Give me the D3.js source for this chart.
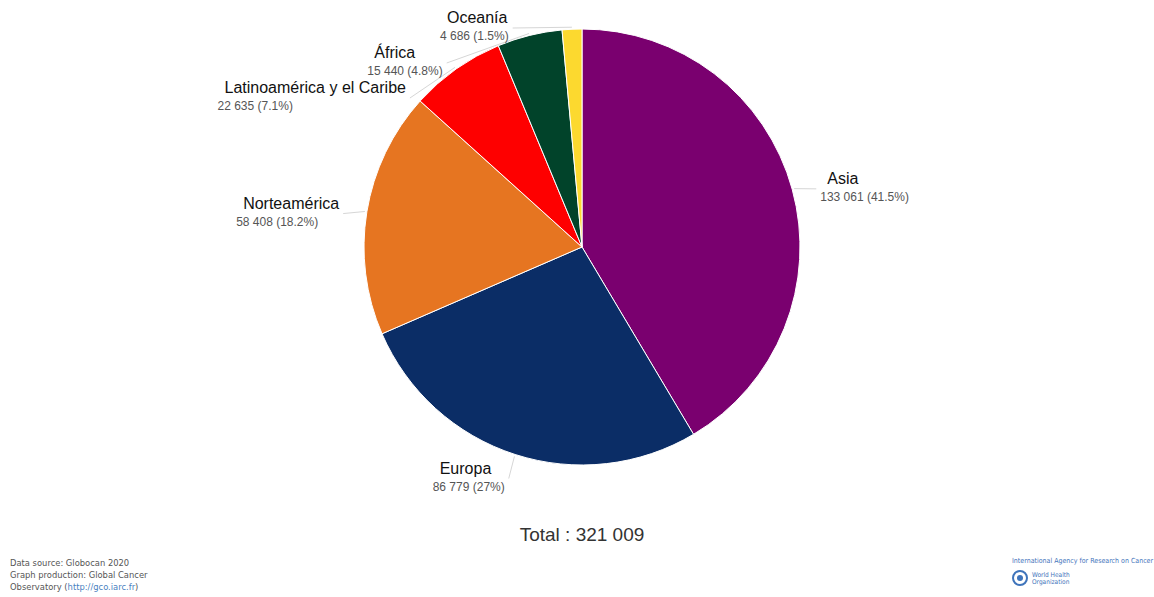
<!DOCTYPE html>
<html>
<head>
<meta charset="utf-8">
<script src="https://cdn.jsdelivr.net/npm/d3@7"></script>
<style>
    body { margin: 0; background: #fff; }
    svg { font-family: "Liberation Sans", Arial, sans-serif; }
</style>
</head>
<body>
<div id="chart"></div>
<script>
// data
var regions = ["Asia", "Europa", "Norteamérica", "Latinoamérica y el Caribe", "África", "Oceanía"];
var cases = [133061, 86779, 58408, 22635, 15440, 4686];
var colors = ["#7a006f", "#0b2d66", "#e67521", "#fe0000", "#01432a", "#fcd92f"];
var sourceLines = ["Data source: Globocan 2020", "Graph production: Global Cancer", "Observatory ("];
var agencyLines = ["International Agency for Research on Cancer", "World Health", "Organization"];

var svgWidth = 1154,
    svgHeight = 597,
    cx = 582,
    cy = 247,
    radius = 218,
    labelRy = 238,  // where the name baseline sits vertically
    labelRx = 245,  // horizontal circle for free labels
    labelRxPushed = 230, // pushed labels hug the pie a bit closer
    labelGap = 35,  // min vertical distance between stacked labels
    labelTop = 23;

var svg = d3.select("#chart")
    .append("svg")
    .attr("width", svgWidth)
    .attr("height", svgHeight);

var locale = d3.formatLocale({ decimal: ".", thousands: " ", grouping: [3], currency: ["", ""] });
var fmt = locale.format(",d");
var total = d3.sum(cases);

var pie = d3.pie().sort(null).value(function (d) { return d; });
var arc = d3.arc().innerRadius(0).outerRadius(radius);
var arcs = pie(cases);

var g = svg.append("g").attr("transform", "translate(" + cx + "," + cy + ")");

g.selectAll(".slice")
    .data(arcs)
    .enter()
    .append("path")
    .attr("class", "slice")
    .attr("d", arc)
    .attr("fill", function (d, i) { return colors[i]; })
    .attr("stroke", "#fff")
    .attr("stroke-width", 1);

// label layout: natural spot on the outer circle, then push the left stack down
var labels = arcs.map(function (d, i) {
    var a = (d.startAngle + d.endAngle) / 2;
    return { i: i, a: a, right: Math.sin(a) >= 0, y: cy - labelRy * Math.cos(a), pushed: false };
});
var left = labels.filter(function (l) { return !l.right; })
    .sort(function (p, q) { return p.y - q.y; });
left.forEach(function (l, k) {
    var minY = k ? left[k - 1].y + labelGap : labelTop;
    if (l.y < minY) { l.y = minY; l.pushed = true; }
});
labels.forEach(function (l) {
    var r = l.pushed ? labelRxPushed : labelRx;
    var dy = l.y + 6 - cy;
    var dx = Math.sqrt(Math.max(0, r * r - dy * dy));
    l.x = cx + (l.right ? dx : -dx);
});

// connectors
svg.selectAll(".connector")
    .data(labels)
    .enter()
    .append("polyline")
    .attr("class", "connector")
    .attr("fill", "none")
    .attr("stroke", "#d6d6d6")
    .attr("stroke-width", 1)
    .attr("points", function (l) {
        var x0 = cx + (radius + 2) * Math.sin(l.a),
            y0 = cy - (radius + 2) * Math.cos(l.a),
            x1 = l.right ? l.x - 4 : l.x + 4;
        return [[x0, y0], [x1, l.y + 5]].join(" ");
    });

var lab = svg.selectAll(".lab")
    .data(labels)
    .enter()
    .append("g")
    .attr("class", "lab");

var nameText = lab.append("text")
    .attr("class", "name")
    .attr("font-size", 16)
    .attr("fill", "#111")
    .attr("y", function (l) { return l.y; })
    .text(function (l) { return regions[l.i]; });

var valText = lab.append("text")
    .attr("class", "val")
    .attr("font-size", 12)
    .attr("fill", "#555")
    .attr("y", function (l) { return l.y + 17; })
    .text(function (l) {
        var p = +(cases[l.i] / total * 100).toFixed(1);
        return fmt(cases[l.i]) + " (" + p + "%)";
    });

// both lines left aligned inside the block; left-side blocks end at l.x
lab.each(function (l) {
    var grp = d3.select(this),
        nw = grp.select(".name").node().getComputedTextLength(),
        vw = grp.select(".val").node().getComputedTextLength(),
        x0 = l.right ? l.x : l.x - Math.max(nw + 7, vw);
    grp.select(".name").attr("x", x0 + 7);
    grp.select(".val").attr("x", x0);
});

svg.append("text")
    .attr("x", cx)
    .attr("y", 541)
    .attr("text-anchor", "middle")
    .attr("font-size", 19)
    .attr("fill", "#333")
    .text("Total : " + fmt(total));

// footer, left
var src = svg.append("g").attr("font-size", 9.3).attr("fill", "#555")
    .attr("font-family", "'DejaVu Sans Condensed', 'Liberation Sans', sans-serif");
sourceLines.forEach(function (t, k) {
    var txt = src.append("text").attr("x", 10).attr("y", 566 + k * 12).text(t);
    if (k === 2) {
        txt.append("tspan").attr("fill", "#4a7fc0").text("http://gco.iarc.fr");
        txt.append("tspan").text(")");
    }
});

// footer, right
var ag = svg.append("g").attr("fill", "#3f74bb")
    .attr("font-family", "'DejaVu Sans Condensed', 'Liberation Sans', sans-serif");
ag.append("text").attr("x", 1012).attr("y", 563).attr("font-size", 7).text(agencyLines[0]);
ag.append("circle").attr("cx", 1020).attr("cy", 578).attr("r", 7)
    .attr("fill", "none").attr("stroke", "#3f74bb").attr("stroke-width", 2);
ag.append("circle").attr("cx", 1020).attr("cy", 578).attr("r", 3).attr("fill", "#3f74bb");
ag.append("text").attr("x", 1032).attr("y", 577).attr("font-size", 6.5).text(agencyLines[1]);
ag.append("text").attr("x", 1032).attr("y", 584).attr("font-size", 6.5).text(agencyLines[2]);
</script>
</body>
</html>
